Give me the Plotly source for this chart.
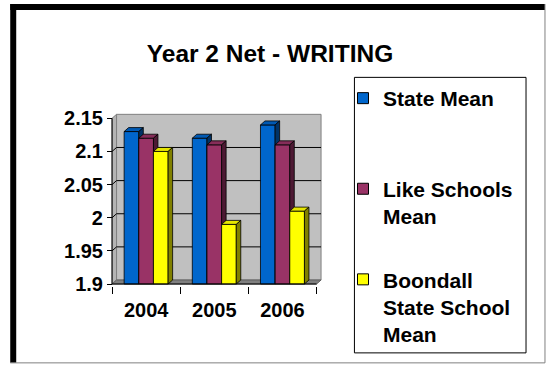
import plotly.graph_objects as go

# ---- data ----
years = ["2004", "2005", "2006"]
state_mean = [2.13, 2.12, 2.14]
like_schools_mean = [2.12, 2.11, 2.11]
boondall_mean = [2.10, 1.99, 2.01]
series_names = ["State Mean", "Like Schools Mean", "Boondall State School Mean"]
legend_labels = ["State Mean<br> ", "Like Schools<br>Mean", "Boondall<br>State School<br>Mean"]
y_ticks = [1.9, 1.95, 2.0, 2.05, 2.1, 2.15]
y_tick_text = ["1.9", "1.95", "2", "2.05", "2.1", "2.15"]

# ---- styling ----
front_colors = ["#0066CC", "#993366", "#FFFF00"]
top_colors = ["#0059B3", "#862D59", "#E6E600"]
side_colors = ["#003366", "#4D1933", "#808000"]
FONT = "Arial, Liberation Sans, sans-serif"

W, H = 547, 365
PL, PR, PT, PB = 110, 322.5, 112.7, 286          # plot area in pixels
X_RANGE = [-0.03, 3.08]
Y_RANGE = [1.897, 2.158]
BAR_W = 0.215      # width of each column front face (category units)
DX, DY = 0.066, 0.006   # 3-D depth offset

n_cat = len(years)
base = y_ticks[0]
top = y_ticks[-1]


def px_x(px):
    return (px - PL) / (PR - PL)


def px_y(py):
    return (PB - py) / (PB - PT)


fig = go.Figure()

# columns drawn face by face, series after series, so nearer faces overlap
all_series = [state_mean, like_schools_mean, boondall_mean]
n_ser = len(all_series)
for s, values in enumerate(all_series):
    fx, fy, tx, ty, sx, sy = [], [], [], [], [], []
    for c, v in enumerate(values):
        x0 = c + 0.5 + (s - n_ser / 2) * BAR_W
        x1 = x0 + BAR_W
        fx += [x0, x1, x1, x0, x0, None]
        fy += [base, base, v, v, base, None]
        tx += [x0, x1, x1 + DX, x0 + DX, x0, None]
        ty += [v, v, v + DY, v + DY, v, None]
        sx += [x1, x1 + DX, x1 + DX, x1, x1, None]
        sy += [base, base + DY, v + DY, v, base, None]
    for xs, ys, col in ((fx, fy, front_colors[s]), (tx, ty, top_colors[s]),
                        (sx, sy, side_colors[s])):
        fig.add_trace(go.Scatter(
            x=xs, y=ys, mode="lines", fill="toself", fillcolor=col,
            line=dict(color="black", width=0.8), hoverinfo="skip",
            showlegend=False))

# legend entries
for s, label in enumerate(legend_labels):
    fig.add_trace(go.Scatter(
        x=[None], y=[None], mode="markers", name=label,
        legendgroup=series_names[s],
        marker=dict(symbol="square", size=11, color=front_colors[s],
                    line=dict(color="black", width=1))))

shapes = []
# back wall, side wall and floor
shapes.append(dict(type="rect", xref="x", yref="y", layer="below",
                   x0=DX, x1=n_cat + DX, y0=base + DY, y1=top + DY,
                   fillcolor="#C0C0C0", line=dict(color="#808080", width=1)))
shapes.append(dict(type="path", xref="x", yref="y", layer="below",
                   path=f"M0,{base} L{DX},{base + DY} L{DX},{top + DY} L0,{top} Z",
                   fillcolor="#B4B4B4", line=dict(color="#808080", width=1)))
shapes.append(dict(type="path", xref="x", yref="y", layer="below",
                   path=f"M0,{base} L{n_cat},{base} L{n_cat + DX},{base + DY} L{DX},{base + DY} Z",
                   fillcolor="#808080", line=dict(color="#606060", width=1)))
# gridlines folded across side wall and back wall
for v in y_ticks[1:-1]:
    shapes.append(dict(type="path", xref="x", yref="y", layer="below",
                       path=f"M0,{v} L{DX},{v + DY} L{n_cat + DX},{v + DY}",
                       line=dict(color="black", width=1)))
# axis lines
shapes.append(dict(type="line", xref="x", yref="y", layer="above",
                   x0=0, x1=0, y0=base, y1=top, line=dict(color="black", width=1)))
shapes.append(dict(type="line", xref="x", yref="y", layer="above",
                   x0=0, x1=n_cat, y0=base, y1=base, line=dict(color="black", width=1)))

# chart frame: heavy black top/left edges, thin grey right/bottom edges
shapes.append(dict(type="rect", xref="paper", yref="paper",
                   x0=px_x(10), x1=px_x(546), y0=px_y(9.5), y1=px_y(3.5),
                   fillcolor="black", line=dict(width=0)))
shapes.append(dict(type="rect", xref="paper", yref="paper",
                   x0=px_x(10), x1=px_x(16), y0=px_y(363), y1=px_y(3.5),
                   fillcolor="black", line=dict(width=0)))
shapes.append(dict(type="line", xref="paper", yref="paper",
                   x0=px_x(546), x1=px_x(546), y0=px_y(363), y1=px_y(3.5),
                   line=dict(color="#808080", width=1)))
shapes.append(dict(type="line", xref="paper", yref="paper",
                   x0=px_x(10), x1=px_x(546), y0=px_y(363), y1=px_y(363),
                   line=dict(color="#808080", width=1)))
# legend box
shapes.append(dict(type="rect", xref="paper", yref="paper",
                   x0=px_x(355), x1=px_x(527), y0=px_y(353), y1=px_y(77),
                   fillcolor="rgba(0,0,0,0)", line=dict(color="black", width=1)))

fig.update_layout(
    width=W, height=H, autosize=False,
    margin=dict(l=PL, r=W - PR, t=PT, b=H - PB, pad=0),
    paper_bgcolor="white", plot_bgcolor="white",
    font=dict(family=FONT, color="black"),
    title=dict(text="Year 2 Net - WRITING", xref="container", yref="container",
               x=270 / W, y=1 - 53 / H, xanchor="center", yanchor="middle",
               font=dict(family=FONT, size=24.5, color="black", weight="bold")),
    showlegend=True,
    legend=dict(xref="container", yref="container", x=343 / W, y=1 - 78 / H,
                xanchor="left", yanchor="top", traceorder="grouped",
                tracegroupgap=33, valign="top", bgcolor="rgba(0,0,0,0)",
                borderwidth=0, maxheight=320,
                font=dict(family=FONT, size=21, color="black", weight="bold")),
    shapes=shapes,
    xaxis=dict(range=X_RANGE, tickmode="array",
               tickvals=[c + 0.5 for c in range(n_cat)], ticktext=years,
               ticks="", showgrid=False, zeroline=False, showline=False,
               ticklabelstandoff=10,
               tickfont=dict(family=FONT, size=20, color="black", weight="bold"),
               minor=dict(tickmode="array", tickvals=list(range(n_cat + 1)),
                          ticks="outside", ticklen=7, tickcolor="black",
                          tickwidth=1, showgrid=False),
               fixedrange=True),
    yaxis=dict(range=Y_RANGE, tickmode="array", tickvals=y_ticks,
               ticktext=y_tick_text, ticks="outside", ticklen=5,
               tickcolor="black", tickwidth=1, showgrid=False, zeroline=False,
               showline=False, anchor="free",
               position=(112 - PL) / (PR - PL),
               tickfont=dict(family=FONT, size=20, color="black", weight="bold"),
               fixedrange=True),
)

fig.write_html("out.html")
